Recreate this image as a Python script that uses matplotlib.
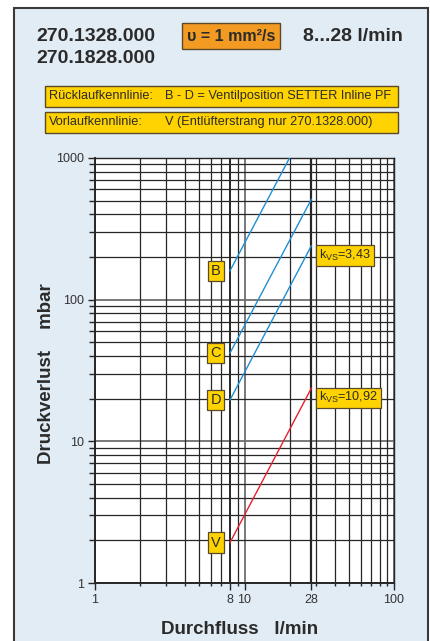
import matplotlib
matplotlib.use('Agg')
import matplotlib.pyplot as plt
from matplotlib.patches import Rectangle
from matplotlib.ticker import FixedLocator, NullFormatter, LogLocator

# Kennlinien: Durchfluss l/min -> Druckverlust mbar
flow_B = [8, 20]
dp_B = [160, 1000]
flow_C = [8, 28]
dp_C = [42, 511]
flow_D = [8, 28]
dp_D = [19.6, 240]
flow_V = [8, 28]
dp_V = [1.93, 23.7]

x_ticks = [1, 8, 10, 28, 100]
x_ticklabels = ['1', '8', '10', '28', '100']
y_ticks = [1, 10, 100, 1000]
y_ticklabels = ['1', '10', '100', '1000']

W, H = 430, 641
fig = plt.figure(figsize=(W / 100, H / 100), dpi=100)
fig.patch.set_facecolor('white')

def fx(px):
    return px / W

def fy(py):
    return 1 - py / H

narrow = ['Liberation Sans', 'DejaVu Sans']
sans = ['Liberation Sans', 'DejaVu Sans']
ink = '#2b2b2b'

# hellblaues Feld mit Rahmen
fig.patches.append(Rectangle((fx(14), -0.01), fx(428) - fx(14), fy(8) + 0.01,
                             transform=fig.transFigure, facecolor='#e2ecf4',
                             edgecolor='#3a3a3a', lw=1.5, zorder=-5))

# Kopfzeile
fig.text(fx(36), fy(41), '270.1328.000', family=sans, weight='bold', fontsize=14,
         color=ink, va='baseline')
fig.text(fx(36), fy(63), '270.1828.000', family=sans, weight='bold', fontsize=14,
         color=ink, va='baseline')
fig.text(fx(403), fy(41), '8...28 l/min', family=sans, weight='bold', fontsize=14,
         color=ink, va='baseline', ha='right')
fig.patches.append(Rectangle((fx(182), fy(49)), fx(280) - fx(182), fy(23) - fy(49),
                             transform=fig.transFigure, facecolor='#f39a22',
                             edgecolor='#5a4a2a', lw=1.0, zorder=-4))
fig.text(fx(231), fy(36.5), 'υ = 1 mm²/s', family=sans, weight='bold', fontsize=11.5,
         color=ink, va='center', ha='center')

# Legendenkästen
for top, bottom, left_txt, right_txt in [
        (85.5, 106.5, 'Rücklaufkennlinie:', 'B - D = Ventilposition SETTER Inline PF'),
        (112, 132.5, 'Vorlaufkennlinie:', 'V (Entlüfterstrang nur 270.1328.000)')]:
    fig.patches.append(Rectangle((fx(45), fy(bottom)), fx(398) - fx(45), fy(top) - fy(bottom),
                                 transform=fig.transFigure, facecolor='#ffd300',
                                 edgecolor='#5a4a2a', lw=1.0, zorder=-4))
    yc = fy((top + bottom) / 2)
    fig.text(fx(49), yc, left_txt, family=narrow, fontsize=9.2, color=ink, va='center')
    fig.text(fx(165), yc, right_txt, family=narrow, fontsize=9.2, color=ink, va='center')

ax = fig.add_axes([fx(95), fy(583), fx(394) - fx(95), fy(158) - fy(583)])
ax.set_zorder(2)
ax.set_facecolor('white')
ax.set_xscale('log')
ax.set_yscale('log')
ax.set_xlim(1, 100)
ax.set_ylim(1, 1000)

# Gitter
ax.xaxis.set_minor_locator(LogLocator(base=10, subs=range(2, 10)))
ax.yaxis.set_minor_locator(LogLocator(base=10, subs=range(2, 10)))
ax.grid(which='minor', color='#262626', lw=0.9)
for v in [1, 10, 100]:
    ax.axvline(v, color='#6e6e6e', lw=1.3, zorder=0.5)
for v in [1, 10, 100, 1000]:
    ax.axhline(v, color='#6e6e6e', lw=1.3, zorder=0.5)
ax.axvline(28, color='#262626', lw=1.6, zorder=0.6)
ax.axvline(8, color='#262626', lw=1.4, zorder=0.6)
ax.set_axisbelow(True)

ax.xaxis.set_major_locator(FixedLocator(x_ticks))
ax.set_xticklabels(x_ticklabels)
ax.xaxis.set_minor_formatter(NullFormatter())
ax.yaxis.set_major_locator(FixedLocator(y_ticks))
ax.set_yticklabels(y_ticklabels)
ax.yaxis.set_minor_formatter(NullFormatter())
ax.tick_params(which='major', length=5, width=1, color='#262626', labelsize=9,
               labelcolor='#333333', direction='out', pad=3)
ax.tick_params(which='minor', length=4, width=1, color='#262626', direction='out')
ax.tick_params(axis='x', which='minor', length=2)
for lab in ax.get_xticklabels() + ax.get_yticklabels():
    lab.set_family(sans)
for s in ax.spines.values():
    s.set_color('#262626')
    s.set_linewidth(1.0)
ax.spines['left'].set_linewidth(1.4)
ax.spines['bottom'].set_linewidth(1.4)

blue = '#1f8fd2'
red = '#e8202c'
ax.plot(flow_B, dp_B, color=blue, lw=1.0, zorder=3)
ax.plot(flow_C, dp_C, color=blue, lw=1.0, zorder=3)
ax.plot(flow_D, dp_D, color=blue, lw=1.0, zorder=3)
ax.plot(flow_V, dp_V, color=red, lw=1.0, zorder=3)

box = dict(boxstyle='square,pad=0.22', facecolor='#ffd300', edgecolor='#5a4a2a', lw=0.9)
for name, xs, ys in [('B', flow_B, dp_B), ('C', flow_C, dp_C),
                     ('D', flow_D, dp_D), ('V', flow_V, dp_V)]:
    ax.annotate(name, xy=(xs[0], ys[0]), xytext=(-10.3, 0), textcoords='offset points',
                ha='center', va='center', fontsize=10.5, family=narrow, color=ink,
                bbox=box, zorder=4)

for txt, xs, ys in [(r'k$_\mathregular{VS}$=3,43', flow_D, dp_D),
                    (r'k$_\mathregular{VS}$=10,92', flow_V, dp_V)]:
    ax.annotate(txt, xy=(xs[-1], ys[-1]), xytext=(5.5, -1.5), textcoords='offset points',
                ha='left', va='top', fontsize=9.1, family=narrow, color=ink,
                bbox=box, zorder=4, annotation_clip=False)

fig.text(fx(47), fy(374), 'Druckverlust    mbar', family=sans, weight='bold', fontsize=13.5,
         color=ink, rotation=90, ha='center', va='center')
fig.text(fx(240), fy(629), 'Durchfluss   l/min', family=sans, weight='bold', fontsize=13.5,
         color=ink, ha='center', va='center')

fig.savefig('out.png', dpi=100)
